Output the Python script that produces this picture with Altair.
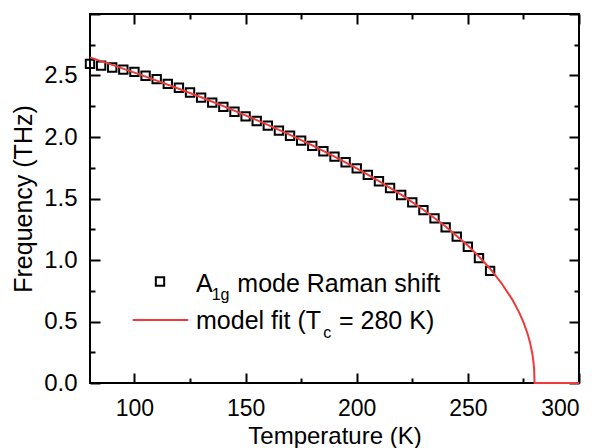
import altair as alt
import pandas as pd

# Measured data: A1g mode Raman shift
temp_meas = [80, 85, 90, 95, 100, 105, 110, 115, 120, 125, 130, 135, 140, 145,
             150, 155, 160, 165, 170, 175, 180, 185, 190, 195, 200, 205, 210,
             215, 220, 225, 230, 235, 240, 245, 250, 255, 260]
freq_meas = [2.595, 2.580, 2.565, 2.548, 2.530, 2.498, 2.470, 2.432, 2.400, 2.362,
             2.320, 2.280, 2.245, 2.205, 2.168, 2.130, 2.092, 2.052, 2.010, 1.970,
             1.928, 1.884, 1.840, 1.795, 1.745, 1.692, 1.640, 1.585, 1.528, 1.468,
             1.405, 1.338, 1.265, 1.190, 1.108, 1.015, 0.912]

# Model fit curve (Tc = 280 K)
temp_fit = [80, 90, 100, 110, 120, 130, 140, 150, 160, 170, 180, 190, 200, 210,
            220, 230, 240, 250, 255, 260, 265, 270, 273, 275, 277, 278, 279,
            279.5, 279.8, 280, 300]
freq_fit = [2.647, 2.586, 2.523, 2.458, 2.392, 2.323, 2.251, 2.176, 2.098, 2.017,
            1.932, 1.841, 1.745, 1.642, 1.531, 1.409, 1.273, 1.117, 1.028, 0.929,
            0.815, 0.678, 0.576, 0.495, 0.392, 0.326, 0.238, 0.174, 0.115, 0.0, 0.0]

x_major = [100, 150, 200, 250, 300]
x_minor = [125, 175, 225, 275]
y_labels = [0.0, 0.5, 1.0, 1.5, 2.0, 2.5]
y_major = [0.0, 0.5, 1.0, 1.5, 2.0, 2.5, 3.0]
y_minor = [0.25, 0.75, 1.25, 1.75, 2.25, 2.75]

legend_point_parts = ["A", "1g", "mode Raman shift"]
legend_fit_parts = ["model fit (T", "c", "= 280 K)"]

FONT = "Liberation Sans"
RED = "#ee3a3a"
W, H = 489, 369

pts = pd.DataFrame({"T": temp_meas, "f": freq_meas})
fit = pd.DataFrame({"T": temp_fit, "f": freq_fit})
one = pd.DataFrame({"k": [0]})

xs = alt.Scale(domain=[80, 300], nice=False, zero=False)
ys = alt.Scale(domain=[0, 3], nice=False, zero=True)


def tick_axis(orient, values, size):
    return alt.Axis(orient=orient, values=values, labels=False, domain=False,
                    grid=False, ticks=True, tickSize=size, offset=-size,
                    tickWidth=2, tickColor="black", title=None)


x_lab = alt.Axis(orient="bottom", values=x_major, format="d", labelFont=FONT,
                 labelFontSize=23, labelColor="black", labelPadding=32,
                 labelBaseline="alphabetic", ticks=False, tickSize=0,
                 domain=False, grid=False, title="Temperature (K)",
                 titleFont=FONT, titleFontSize=24, titleFontWeight="normal",
                 titleColor="black", titleY=60, titleBaseline="alphabetic")
y_lab = alt.Axis(orient="left", values=y_labels, format=".1f", labelFont=FONT,
                 labelFontSize=24, labelColor="black", labelPadding=13,
                 ticks=False, tickSize=0, domain=False, grid=False,
                 title="Frequency (THz)", titleFont=FONT, titleFontSize=25,
                 titleFontWeight="normal", titleColor="black", titleX=-59,
                 titleY=H / 2, titleAngle=270, titleBaseline="alphabetic",
                 titleAlign="center")

points = alt.Chart(pts).mark_point(shape="square", size=70, filled=False,
                                   stroke="black", strokeWidth=2, opacity=1).encode(
    x=alt.X("T:Q", scale=xs, axis=x_lab),
    y=alt.Y("f:Q", scale=ys, axis=y_lab),
)

line = alt.Chart(fit).mark_line(color=RED, strokeWidth=2).encode(
    x=alt.X("T:Q", scale=xs, axis=tick_axis("bottom", x_major, 10)),
    y=alt.Y("f:Q", scale=ys, axis=tick_axis("left", y_major, 10)),
)

inv1 = alt.Chart(fit).mark_point(opacity=0).encode(
    x=alt.X("T:Q", scale=xs, axis=tick_axis("bottom", x_minor, 5)),
    y=alt.Y("f:Q", scale=ys, axis=tick_axis("left", y_minor, 5)),
)
inv2 = alt.Chart(fit).mark_point(opacity=0).encode(
    x=alt.X("T:Q", scale=xs, axis=tick_axis("top", x_major, 10)),
    y=alt.Y("f:Q", scale=ys, axis=tick_axis("right", y_major, 10)),
)
inv3 = alt.Chart(fit).mark_point(opacity=0).encode(
    x=alt.X("T:Q", scale=xs, axis=tick_axis("top", x_minor, 5)),
    y=alt.Y("f:Q", scale=ys, axis=tick_axis("right", y_minor, 5)),
)

# Legend (drawn inside plot area)
leg_sq = alt.Chart(one).mark_point(shape="square", size=70, filled=False,
                                   stroke="black", strokeWidth=2, opacity=1).encode(
    x=alt.value(70), y=alt.value(267.5))
leg_line = alt.Chart(one).mark_rule(color=RED, strokeWidth=2).encode(
    x=alt.value(42.7), x2=alt.value(98.3), y=alt.value(306))


def txt(s, x, y, size):
    return alt.Chart(one).mark_text(align="left", baseline="alphabetic",
                                    font=FONT, fontSize=size, color="black").encode(
        x=alt.value(x), y=alt.value(y), text=alt.value(s))


legend_texts = [
    txt(legend_point_parts[0], 106, 277.7, 25),
    txt(legend_point_parts[1], 121.7, 285.5, 16),
    txt(legend_point_parts[2], 147.3, 277.7, 25),
    txt(legend_fit_parts[0], 106, 315.3, 25),
    txt(legend_fit_parts[1], 233.3, 323.5, 16),
    txt(legend_fit_parts[2], 249, 315.3, 25),
]

chart = alt.layer(points, line, inv1, inv2, inv3, leg_sq, leg_line, *legend_texts).resolve_axis(
    x="independent", y="independent"
).properties(
    width=W, height=H,
    padding={"left": 90, "top": 14, "right": 24, "bottom": 65},
    autosize=alt.AutoSizeParams(type="none"),
    background="white",
).configure_view(stroke="black", strokeWidth=2)

chart.save("out.html", embed_options={"renderer": "svg", "actions": False})
